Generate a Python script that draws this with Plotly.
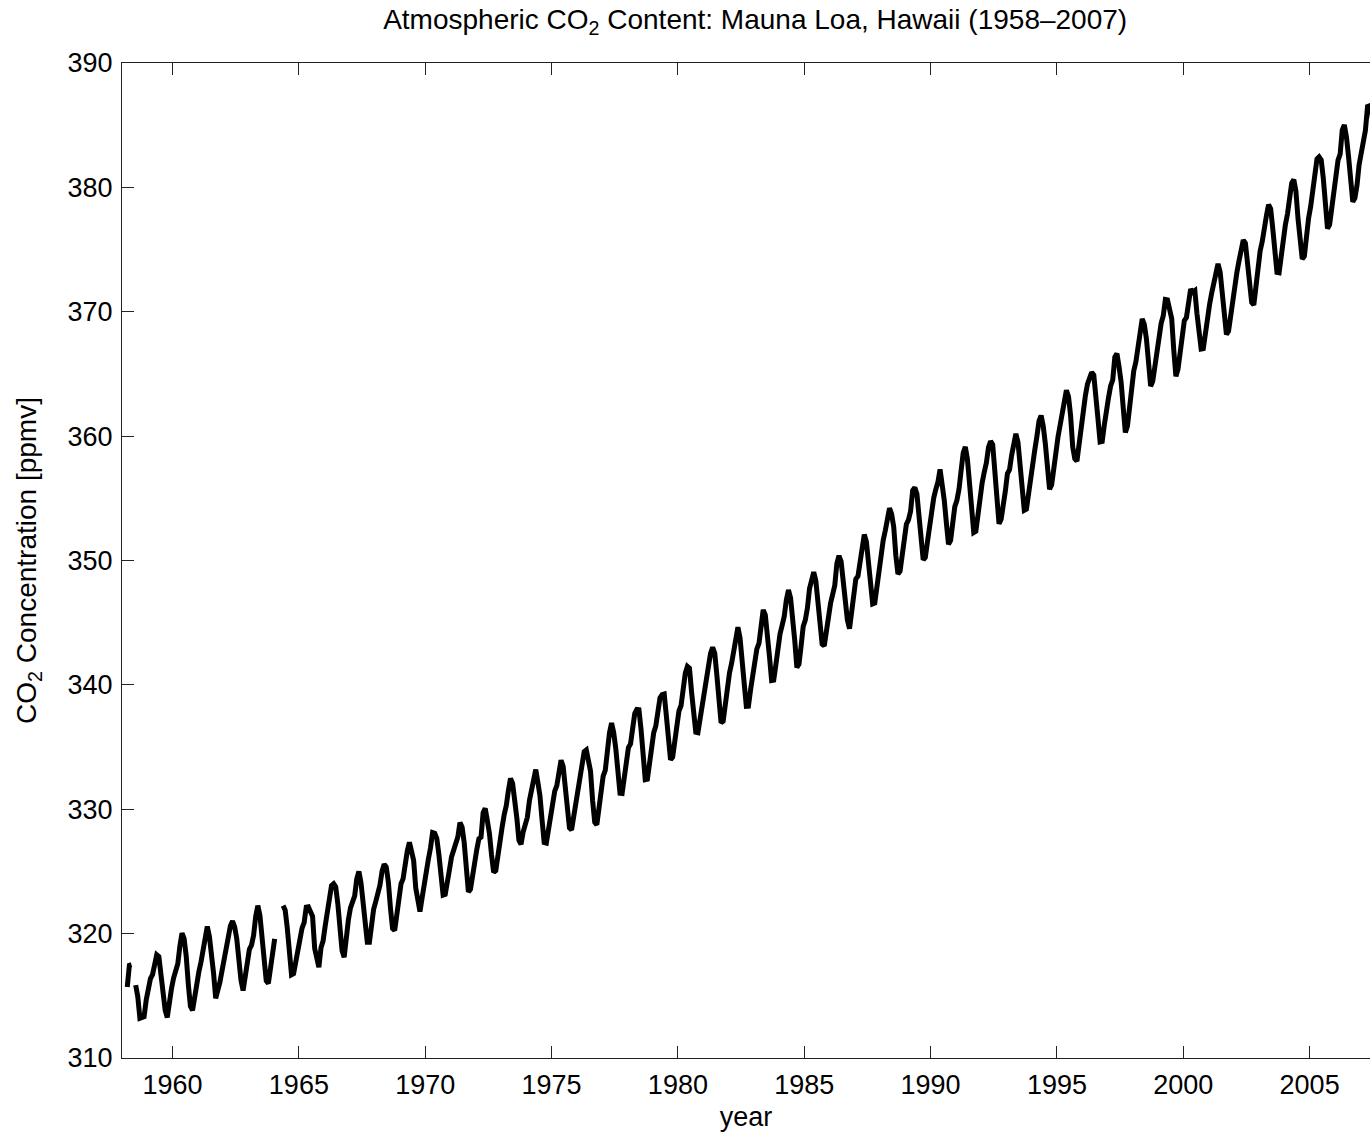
import plotly.graph_objects as go

# Monthly mean CO2 at Mauna Loa (ppmv), Jan..Dec; None = missing month
years = list(range(1958, 2008))
co2_monthly = [
    [None, None, 315.71, 317.45, 317.50, None, 315.86, 314.93, 313.20, 313.26, 313.33, 314.67],  # 1958
    [315.62, 316.38, 316.71, 317.72, 318.29, 318.15, 316.54, 314.80, 313.84, 313.26, 314.80, 315.58],
    [316.43, 316.97, 317.58, 319.02, 320.03, 319.59, 318.18, 315.91, 314.16, 313.83, 315.00, 316.19],
    [316.93, 317.70, 318.54, 319.48, 320.58, 319.77, 318.57, 316.79, 314.80, 315.38, 316.10, 317.01],
    [317.94, 318.56, 319.68, 320.63, 321.01, 320.55, 319.58, 317.40, 316.26, 315.42, 316.69, 317.69],
    [318.74, 319.08, 319.86, 321.39, 322.25, 321.47, 319.74, 317.77, 316.21, 315.99, 317.12, 318.31],
    [319.57, None, None, None, 322.25, 321.89, 320.44, 318.70, 316.70, 316.79, 317.79, 318.71],  # 1964
    [319.44, 320.44, 320.89, 322.13, 322.16, 321.87, 321.39, 318.81, 317.81, 317.30, 318.87, 319.42],
    [320.62, 321.59, 322.39, 323.87, 324.01, 323.75, 322.39, 320.37, 318.64, 318.10, 319.79, 321.08],
    [322.07, 322.50, 323.04, 324.42, 325.00, 324.09, 322.55, 320.92, 319.31, 319.31, 320.72, 321.96],
    [322.57, 323.15, 323.89, 325.02, 325.57, 325.36, 324.14, 322.03, 320.41, 320.25, 321.31, 322.84],
    [324.00, 324.42, 325.64, 326.66, 327.34, 326.76, 325.88, 323.67, 322.38, 321.78, 322.85, 324.11],
    [325.03, 325.99, 326.87, 328.13, 328.07, 327.66, 326.35, 324.69, 323.10, 323.16, 323.98, 325.13],
    [326.17, 326.68, 327.18, 327.78, 328.92, 328.57, 327.34, 325.46, 323.36, 323.57, 324.80, 326.01],
    [326.77, 327.63, 327.75, 329.72, 330.07, 329.09, 328.05, 326.32, 324.93, 325.06, 326.50, 327.55],
    [328.54, 329.56, 330.30, 331.50, 332.48, 332.07, 330.87, 329.31, 327.51, 327.18, 328.16, 328.64],
    [329.35, 330.71, 331.48, 332.65, 333.19, 332.16, 331.07, 329.12, 327.32, 327.28, 328.30, 329.58],
    [330.73, 331.46, 331.90, 333.17, 333.94, 333.45, 331.97, 329.95, 328.50, 328.34, 329.37, 330.58],
    [331.59, 332.75, 333.52, 334.64, 334.77, 334.00, 333.06, 330.68, 328.95, 328.75, 330.15, 331.62],
    [332.66, 333.13, 334.95, 336.13, 336.93, 336.17, 334.88, 332.56, 331.29, 331.27, 332.41, 333.60],
    [334.95, 335.25, 336.66, 337.69, 338.03, 338.01, 336.41, 334.41, 332.37, 332.41, 333.75, 334.90],
    [336.14, 336.69, 338.27, 338.95, 339.21, 339.26, 337.54, 335.75, 333.98, 334.19, 335.31, 336.81],
    [337.90, 338.34, 340.01, 340.93, 341.48, 341.33, 339.40, 337.70, 336.19, 336.15, 337.27, 338.32],
    [339.29, 340.55, 341.61, 342.53, 343.03, 342.54, 340.78, 338.44, 336.95, 337.08, 338.58, 339.88],
    [340.96, 341.73, 342.81, 343.97, 344.63, 343.79, 342.32, 340.09, 338.28, 338.29, 339.60, 340.90],
    [341.68, 342.90, 343.33, 345.25, 346.03, 345.63, 344.19, 342.27, 340.35, 340.38, 341.59, 343.05],
    [344.10, 344.79, 345.52, 346.84, 347.63, 346.98, 345.53, 343.55, 341.40, 341.67, 343.10, 344.70],
    [345.21, 346.16, 347.74, 348.33, 349.06, 348.38, 346.72, 345.02, 343.27, 343.13, 344.49, 345.88],
    [346.56, 347.28, 348.01, 349.77, 350.38, 349.93, 348.16, 346.08, 345.22, 344.51, 345.93, 347.21],
    [348.52, 348.73, 349.73, 351.31, 352.09, 351.53, 350.11, 347.92, 346.52, 346.59, 347.96, 349.16],
    [350.39, 351.64, 352.41, 353.69, 354.21, 353.72, 352.69, 350.40, 348.92, 349.13, 350.20, 351.41],
    [352.91, 353.27, 353.96, 355.64, 355.86, 355.37, 353.99, 351.81, 350.05, 350.25, 351.49, 352.85],
    [353.80, 355.04, 355.73, 356.32, 357.32, 356.34, 354.84, 353.01, 351.31, 351.62, 353.07, 354.33],
    [354.84, 355.73, 357.23, 358.66, 359.13, 358.13, 356.19, 353.85, 352.25, 352.35, 353.81, 355.12],
    [356.25, 357.11, 357.86, 359.09, 359.59, 359.33, 357.01, 354.94, 352.96, 353.32, 354.32, 355.57],
    [357.00, 357.31, 358.47, 359.27, 360.19, 359.52, 357.33, 355.64, 354.03, 354.12, 355.41, 356.91],
    [358.24, 358.92, 359.99, 361.23, 361.65, 360.81, 359.38, 357.46, 355.73, 356.08, 357.53, 358.98],
    [359.92, 360.86, 361.83, 363.30, 363.69, 363.19, 361.64, 359.12, 358.17, 357.99, 359.45, 360.68],
    [362.07, 363.24, 364.17, 364.57, 365.13, 364.92, 363.55, 361.38, 359.54, 359.58, 360.89, 362.24],
    [363.09, 364.03, 364.51, 366.35, 366.64, 365.59, 364.31, 362.25, 360.29, 360.82, 362.49, 364.38],
    [365.26, 365.98, 367.24, 368.66, 369.42, 368.99, 367.82, 365.95, 364.02, 364.40, 365.52, 367.13],
    [368.18, 369.07, 369.68, 370.99, 370.96, 370.30, 369.45, 366.90, 364.81, 365.37, 366.72, 368.10],
    [369.29, 369.54, 370.60, 371.82, 371.58, 371.70, 369.86, 368.13, 367.00, 367.03, 368.37, 369.67],
    [370.59, 371.51, 372.43, 373.37, 373.85, 373.21, 371.51, 369.61, 368.18, 368.45, 369.76, 371.24],
    [372.53, 373.20, 374.12, 375.02, 375.76, 375.52, 374.01, 371.85, 370.75, 370.55, 372.25, 373.79],
    [374.88, 375.64, 376.45, 377.73, 378.60, 378.28, 376.70, 374.38, 373.17, 373.14, 374.66, 375.99],
    [377.00, 377.87, 378.88, 380.35, 380.62, 379.69, 377.47, 376.01, 374.25, 374.46, 376.16, 377.51],
    [378.46, 379.73, 380.77, 382.29, 382.45, 382.21, 380.74, 378.74, 376.70, 377.00, 378.35, 380.11],
    [381.38, 382.19, 382.67, 384.61, 385.03, 384.05, 382.46, 380.41, 378.85, 379.13, 380.15, 381.82],
    [382.89, 383.90, 384.58, 386.50, 386.56, 386.10, 384.50, 381.99, 380.96, 381.12, 382.45, 383.95],  # 2007
]

x_ticks = [1960, 1965, 1970, 1975, 1980, 1985, 1990, 1995, 2000, 2005]
y_ticks = [310, 320, 330, 340, 350, 360, 370, 380, 390]

# decimal year at mid-month
x_vals, y_vals = [], []
for yr, row in zip(years, co2_monthly):
    for m, v in enumerate(row):
        x_vals.append(yr + (m + 0.5) / 12.0)
        y_vals.append(v)

# trim leading missing months
while y_vals and y_vals[0] is None:
    x_vals.pop(0)
    y_vals.pop(0)

FONT = "Liberation Sans, Arial, Helvetica, sans-serif"

fig = go.Figure()
fig.add_trace(go.Scatter(
    x=x_vals, y=y_vals, mode="lines",
    line=dict(color="black", width=5),
    connectgaps=False, showlegend=False, hoverinfo="skip",
))

fig.update_layout(
    width=1370, height=1132,
    margin=dict(l=122, r=0, t=63, b=74),
    paper_bgcolor="white", plot_bgcolor="white",
    font=dict(family=FONT, size=27, color="black"),
    title=dict(
        text="Atmospheric CO<sub>2</sub> Content: Mauna Loa, Hawaii (1958\u20132007)",
        x=0.5512, xanchor="center", y=0.992, yanchor="top", yref="container",
        font=dict(family=FONT, size=28, color="black"),
    ),
)
fig.update_xaxes(
    range=[1958, 2007.39], tickvals=x_ticks, ticktext=[str(t) for t in x_ticks],
    ticks="inside", ticklen=12, tickwidth=1, tickcolor="#222",
    showline=True, linecolor="#222", linewidth=1, mirror="ticks",
    showgrid=False, zeroline=False,
    tickfont=dict(family=FONT, size=27), ticklabelstandoff=3,
    title=dict(text="year", font=dict(family=FONT, size=27), standoff=8),
)
fig.update_yaxes(
    range=[310, 390], tickvals=y_ticks, ticktext=[str(t) for t in y_ticks],
    ticks="inside", ticklen=12, tickwidth=1, tickcolor="#222",
    showline=True, linecolor="#222", linewidth=1, mirror=False,
    showgrid=False, zeroline=False,
    tickfont=dict(family=FONT, size=27), ticklabelstandoff=3,
    title=dict(text="CO<sub>2</sub> Concentration [ppmv]", font=dict(family=FONT, size=28), standoff=22),
)

fig.write_html("out.html")
